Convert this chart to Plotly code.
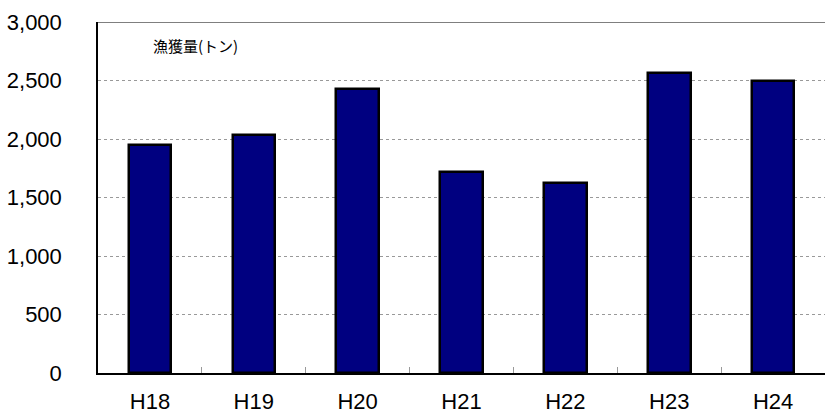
import plotly.graph_objects as go

categories = ["H18", "H19", "H20", "H21", "H22", "H23", "H24"]
catch_tons = [1950, 2030, 2430, 1715, 1620, 2560, 2500]
y_ticks = [0, 500, 1000, 1500, 2000, 2500, 3000]
y_tick_labels = ["0", "500", "1,000", "1,500", "2,000", "2,500", "3,000"]
label_text = "漁獲量(トン)"

fig = go.Figure()
fig.add_trace(go.Bar(
    x=categories, y=catch_tons, width=0.41,
    marker=dict(color="#000080", line=dict(color="#000000", width=2.5)),
))

fig.update_layout(
    width=825, height=412,
    margin=dict(l=98, r=0, t=22, b=39, autoexpand=False),
    paper_bgcolor="white", plot_bgcolor="white",
    showlegend=False,
    font=dict(family="Liberation Sans, Arial, sans-serif", size=22, color="#000000"),
    bargap=0,
)
fig.update_xaxes(
    type="category", automargin=False,
    showline=True, linecolor="#000000", linewidth=1.5,
    ticks="inside", tickson="boundaries", ticklen=6, tickcolor="#999999", tickwidth=1,
    showgrid=False,
    ticklabelstandoff=8,
    tickfont=dict(size=22),
)
fig.update_yaxes(
    range=[0, 3000], automargin=False,
    tickvals=y_ticks, ticktext=y_tick_labels,
    showline=True, linecolor="#000000", linewidth=1.5,
    showgrid=True, gridcolor="#999999", gridwidth=1, griddash="dot",
    ticks="", ticklabelstandoff=30,
    tickfont=dict(size=22),
    zeroline=False,
)
fig.add_shape(type="line", xref="paper", yref="y", x0=0, x1=1, y0=3000, y1=3000,
              line=dict(color="#555555", width=1.5))
fig.add_annotation(
    text=label_text, xref="paper", yref="paper", x=0.1348, y=0.932,
    xanchor="center", yanchor="middle", showarrow=False,
    font=dict(family="Noto Sans CJK JP", size=15, color="#000000"),
)

fig.write_html("out.html", config={"displayModeBar": False})

with open("out.html", "r", encoding="utf-8") as f:
    html = f.read()
html = html.replace("<head>", "<head><style>html,body{margin:0;padding:0;overflow:hidden;}</style>", 1)
with open("out.html", "w", encoding="utf-8") as f:
    f.write(html)
